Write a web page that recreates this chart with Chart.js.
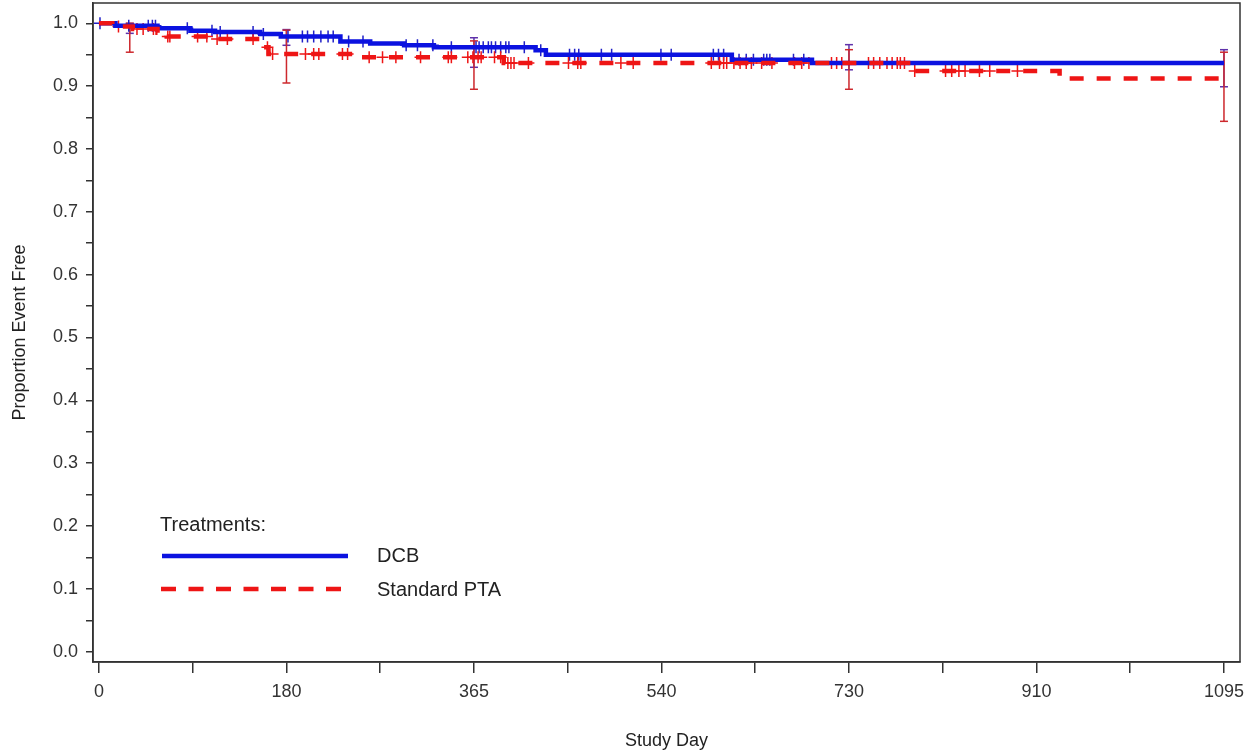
<!DOCTYPE html>
<html>
<head>
<meta charset="utf-8">
<script src="https://cdn.jsdelivr.net/npm/chart.js@4.4.1/dist/chart.umd.min.js"></script>
<style>
  html, body { margin: 0; padding: 0; background: #fff; }
</style>
</head>
<body>
<canvas id="km" width="1248" height="752"></canvas>
<script>
// Kaplan-Meier steps (day the value starts, proportion event free)
const dcbDays = [0, 16, 57, 89, 113, 157, 177, 235, 264, 297, 326, 425, 435, 616, 694];
const dcbSurv = [1.0, 0.996, 0.992, 0.988, 0.986, 0.983, 0.979, 0.971, 0.968, 0.965, 0.962, 0.957, 0.950, 0.942, 0.937];
const ptaDays = [0, 13, 33, 57, 66, 115, 159, 165, 255, 394, 791, 935];
const ptaSurv = [1.0, 0.995, 0.991, 0.985, 0.979, 0.975, 0.962, 0.951, 0.946, 0.937, 0.924, 0.912];
const lastDay = 1095;

// censored observations (days)
const dcbCensor = [1, 29, 48, 52, 55, 86, 110, 118, 150, 160, 184, 198, 203, 209, 216, 223, 228, 243, 257,
  299, 310, 325, 343, 367, 370, 374, 379, 382, 386, 391, 396, 399, 414, 430, 458, 463, 467, 489, 499,
  547, 557, 598, 603, 608, 623, 630, 637, 647, 650, 653, 676, 686];
const ptaCensor = [19, 37, 43, 53, 67, 69, 96, 105, 115, 125, 150, 164, 169, 201, 209, 214, 237, 242, 263,
  276, 289, 313, 340, 343, 359, 364, 369, 372, 385, 391, 398, 401, 404, 418, 457, 466, 469, 508, 520,
  596, 604, 608, 611, 618, 624, 630, 635, 645, 655, 677, 684, 691, 713, 718, 723, 749, 754, 760, 767,
  772, 777, 780, 784, 794, 824, 830, 837, 843, 857, 867, 894];

// confidence limits
const ciDays = [30, 182.5, 365, 730, 1095];
const dcbLower = [0.984, 0.965, 0.930, 0.926, 0.899];
const dcbUpper = [1.0, 0.990, 0.977, 0.966, 0.958];
const ptaLower = [0.954, 0.905, 0.895, 0.895, 0.844];
const ptaUpper = [1.0, 0.989, 0.972, 0.958, 0.954];

const xTickLabels = ['0', '180', '365', '540', '730', '910', '1095'];

const BLUE = '#0b12e0';
const RED = '#ee1515';
const FONT = '"Liberation Sans", Arial, sans-serif';

function stepLine(days, surv) {
  const pts = days.map((d, i) => ({ x: d, y: surv[i] }));
  pts.push({ x: lastDay, y: surv[surv.length - 1] });
  return pts;
}

function stepAt(days, surv, d) {
  let v = surv[0];
  for (let i = 0; i < days.length; i++) {
    if (days[i] <= d) v = surv[i];
  }
  return v;
}

function ciSegments(lo, hi) {
  const pts = [];
  ciDays.forEach((d, i) => {
    pts.push({ x: d, y: lo[i] });
    pts.push({ x: d, y: hi[i] });
    pts.push({ x: d, y: null });
  });
  return pts;
}

// frame around the plot area
const framePlugin = {
  id: 'frame',
  afterDraw(chart) {
    const { ctx, chartArea: a } = chart;
    ctx.save();
    ctx.strokeStyle = '#333';
    ctx.lineWidth = 1.5;
    ctx.strokeRect(a.left, a.top, a.right - a.left, a.bottom - a.top);
    ctx.restore();
  }
};

// legend inside the plot, bottom left
const legendPlugin = {
  id: 'kmLegend',
  afterDraw(chart) {
    const ctx = chart.ctx;
    ctx.save();
    ctx.font = '20px ' + FONT;
    ctx.fillStyle = '#222';
    ctx.textBaseline = 'middle';
    ctx.fillText('Treatments:', 160, 525);

    ctx.lineWidth = 4.5;
    ctx.strokeStyle = BLUE;
    ctx.beginPath();
    ctx.moveTo(162, 556);
    ctx.lineTo(348, 556);
    ctx.stroke();
    ctx.fillText(chart.data.datasets[1].label, 377, 556);

    ctx.strokeStyle = RED;
    ctx.setLineDash([15, 12.5]);
    ctx.beginPath();
    ctx.moveTo(161, 589);
    ctx.lineTo(342, 589);
    ctx.stroke();
    ctx.setLineDash([]);
    ctx.fillText(chart.data.datasets[0].label, 377, 590);
    ctx.restore();
  }
};

const censorStyle = {
  type: 'scatter',
  pointStyle: 'cross',
  pointRadius: 6,
  pointHoverRadius: 6,
  borderWidth: 1.5
};

const chart = new Chart(document.getElementById('km'), {
  type: 'line',
  data: {
    datasets: [
      {
        label: 'Standard PTA',
        data: stepLine(ptaDays, ptaSurv),
        stepped: 'before',
        borderColor: RED,
        borderWidth: 4.5,
        borderDash: [14, 13],
        pointRadius: 0,
        fill: false
      },
      {
        label: 'DCB',
        data: stepLine(dcbDays, dcbSurv),
        stepped: 'before',
        borderColor: BLUE,
        borderWidth: 4.5,
        pointRadius: 0,
        fill: false
      },
      Object.assign({}, censorStyle, {
        label: 'PTA censored',
        data: ptaCensor.map(d => ({ x: d, y: stepAt(ptaDays, ptaSurv, d) })),
        borderColor: RED
      }),
      Object.assign({}, censorStyle, {
        label: 'DCB censored',
        data: dcbCensor.map(d => ({ x: d, y: stepAt(dcbDays, dcbSurv, d) })),
        borderColor: '#2020c8'
      }),
      {
        label: 'PTA CI',
        data: ciSegments(ptaLower, ptaUpper),
        borderColor: 'rgb(205,40,45)',
        borderWidth: 1.5,
        pointStyle: 'line',
        pointRadius: 4,
        pointBorderWidth: 1.5,
        spanGaps: false
      },
      {
        label: 'DCB CI',
        data: ciSegments(dcbLower, dcbUpper),
        borderColor: 'rgb(95,50,170)',
        borderWidth: 1.5,
        pointStyle: 'line',
        pointRadius: 4,
        pointBorderWidth: 1.5,
        spanGaps: false
      }
    ]
  },
  options: {
    responsive: false,
    animation: false,
    layout: { autoPadding: false, padding: { top: 3, right: 8, left: 0, bottom: 0 } },
    plugins: {
      legend: { display: false },
      tooltip: { enabled: false }
    },
    scales: {
      x: {
        type: 'linear',
        min: -5.8,
        max: 1110.6,
        afterBuildTicks(scale) {
          const t = [];
          for (let k = 0; k <= 12; k++) t.push({ value: k * 91.25 });
          scale.ticks = t;
        },
        afterFit(scale) {
          scale.height = 90;
          scale.paddingLeft = 0;
          scale.paddingRight = 0;
        },
        grid: { drawOnChartArea: false, drawTicks: true, tickLength: 11, color: '#333', lineWidth: 1.5 },
        border: { color: '#333', width: 1.5 },
        ticks: {
          autoSkip: false,
          maxRotation: 0,
          padding: 8,
          color: '#333',
          font: { family: FONT, size: 18 },
          callback(value, index) {
            return index % 2 === 0 ? xTickLabels[index / 2] : '';
          }
        },
        title: {
          display: true,
          text: 'Study Day',
          color: '#222',
          font: { family: FONT, size: 18 },
          padding: { top: 0, bottom: 0 }
        }
      },
      y: {
        min: -0.0164,
        max: 1.0323,
        afterBuildTicks(scale) {
          const t = [];
          for (let k = 0; k <= 20; k++) t.push({ value: k * 0.05 });
          scale.ticks = t;
        },
        afterFit(scale) {
          scale.width = 93;
          scale.paddingTop = 0;
          scale.paddingBottom = 0;
        },
        grid: { drawOnChartArea: false, drawTicks: true, tickLength: 7, color: '#333', lineWidth: 1.5 },
        border: { color: '#333', width: 1.5 },
        ticks: {
          autoSkip: false,
          padding: 8,
          color: '#333',
          font: { family: FONT, size: 18 },
          callback(value, index) {
            return index % 2 === 0 ? (index / 20).toFixed(1) : '';
          }
        },
        title: {
          display: true,
          text: 'Proportion Event Free',
          color: '#222',
          font: { family: FONT, size: 18 },
          padding: { top: 9, bottom: 0 }
        }
      }
    }
  },
  plugins: [framePlugin, legendPlugin]
});
</script>
</body>
</html>
